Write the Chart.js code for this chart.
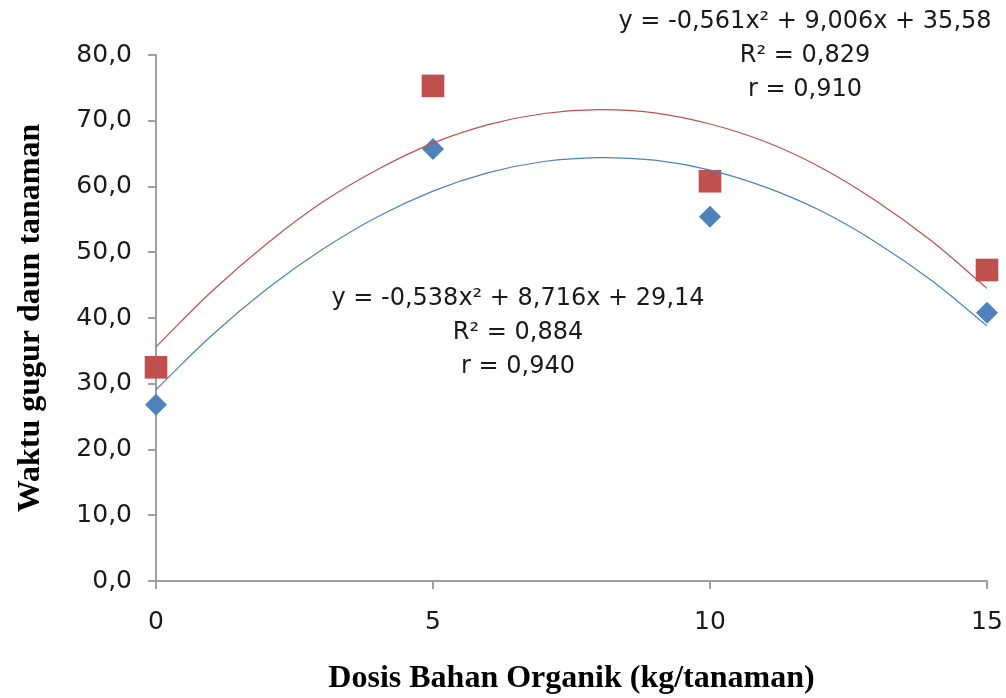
<!DOCTYPE html>
<html>
<head>
<meta charset="utf-8">
<script src="https://cdn.jsdelivr.net/npm/chart.js@4"></script>
<style>
  html, body { margin: 0; padding: 0; background: #fff; }
  #wrap { width: 1006px; height: 698px; }
</style>
</head>
<body>
<div id="wrap"><canvas id="chart" width="1006" height="698"></canvas></div>
<script>
// observed values
const doses = [0, 5, 10, 15];
const seriesBlue = [26.8, 65.7, 55.4, 40.8];
const seriesRed = [32.5, 75.3, 60.8, 47.3];

// trendline curves
const trendX = [0, 1, 2, 3, 4, 5, 6, 7, 8, 9, 10, 11, 12, 13, 14, 15];
const trendBlue = [29.1, 37.3, 44.4, 50.4, 55.4, 59.3, 62.1, 63.8, 64.4, 64.0, 62.5, 59.9, 56.3, 51.5, 45.7, 38.8];
const trendRed = [35.6, 44.0, 51.3, 57.6, 62.6, 66.6, 69.4, 71.1, 71.7, 71.2, 69.5, 66.8, 62.9, 57.8, 51.7, 44.5];

const yTicks = [0, 10, 20, 30, 40, 50, 60, 70, 80];
const xTicks = [0, 5, 10, 15];

const labelsRed = ['y = -0,561x² + 9,006x + 35,58', 'R² = 0,829', 'r = 0,910'];
const labelsBlue = ['y = -0,538x² + 8,716x + 29,14', 'R² = 0,884', 'r = 0,940'];

const BLUE = '#4f81bd';
const RED = '#c0504d';
const textFont = '"DejaVu Sans", sans-serif';
const titleFont = '"Liberation Serif", "DejaVu Serif", serif';

function pairs(xs, ys) {
    return xs.map((x, i) => ({ x: x, y: ys[i] }));
}

// equation labels
const equationPlugin = {
    id: 'equations',
    afterDraw(chart) {
        const ctx = chart.ctx;
        ctx.save();
        ctx.fillStyle = '#1a1a1a';
        ctx.font = '24px ' + textFont;
        ctx.textAlign = 'center';
        ctx.textBaseline = 'middle';
        labelsRed.forEach((t, i) => ctx.fillText(t, 805, 22 + i * 34));
        labelsBlue.forEach((t, i) => ctx.fillText(t, 518, 299 + i * 34));
        ctx.restore();
    }
};

new Chart(document.getElementById('chart'), {
    type: 'scatter',
    data: {
        datasets: [
            {
                type: 'line',
                data: pairs(trendX, trendRed),
                borderColor: RED,
                borderWidth: 1.2,
                pointRadius: 0,
                tension: 0.4,
                fill: false
            },
            {
                type: 'line',
                data: pairs(trendX, trendBlue),
                borderColor: BLUE,
                borderWidth: 1.2,
                pointRadius: 0,
                tension: 0.4,
                fill: false
            },
            {
                data: pairs(doses, seriesRed),
                pointStyle: 'rect',
                pointRadius: 16,
                backgroundColor: RED,
                borderColor: RED,
                borderWidth: 0
            },
            {
                data: pairs(doses, seriesBlue),
                pointStyle: 'rectRot',
                pointRadius: 11,
                backgroundColor: BLUE,
                borderColor: BLUE,
                borderWidth: 0
            }
        ]
    },
    options: {
        responsive: false,
        animation: false,
        clip: false,
        layout: { padding: { top: 55, right: 19, left: 0, bottom: 0 } },
        plugins: { legend: { display: false }, tooltip: { enabled: false } },
        scales: {
            x: {
                type: 'linear',
                min: 0,
                max: 15,
                afterBuildTicks: (scale) => { scale.ticks = xTicks.map(v => ({ value: v })); },
                afterFit: (scale) => {
                    scale.height = 117;
                    scale.paddingLeft = 0;
                    scale.paddingRight = 0;
                },
                border: { color: '#a0a0a0', width: 2 },
                grid: { drawOnChartArea: false, tickLength: 8, color: '#a0a0a0', lineWidth: 2 },
                ticks: {
                    padding: 18,
                    color: '#1a1a1a',
                    font: { family: textFont, size: 25 },
                    callback: (v) => String(v)
                },
                title: {
                    display: true,
                    text: 'Dosis Bahan Organik (kg/tanaman)',
                    color: '#000',
                    font: { family: titleFont, size: 32, weight: 'bold' },
                    padding: { top: 15, bottom: 0 }
                }
            },
            y: {
                min: 0,
                max: 80,
                afterBuildTicks: (scale) => { scale.ticks = yTicks.map(v => ({ value: v })); },
                afterFit: (scale) => {
                    scale.width = 156;
                    scale.paddingTop = 0;
                    scale.paddingBottom = 0;
                },
                border: { color: '#a0a0a0', width: 2 },
                grid: { drawOnChartArea: false, tickLength: 8, color: '#a0a0a0', lineWidth: 2 },
                ticks: {
                    padding: 16,
                    color: '#1a1a1a',
                    font: { family: textFont, size: 25 },
                    callback: (v) => v.toFixed(1).replace('.', ',')
                },
                title: {
                    display: true,
                    text: 'Waktu gugur daun tanaman',
                    color: '#000',
                    font: { family: titleFont, size: 32, weight: 'bold' },
                    padding: { top: 12, bottom: 0 }
                }
            }
        }
    },
    plugins: [equationPlugin]
});
</script>
</body>
</html>
